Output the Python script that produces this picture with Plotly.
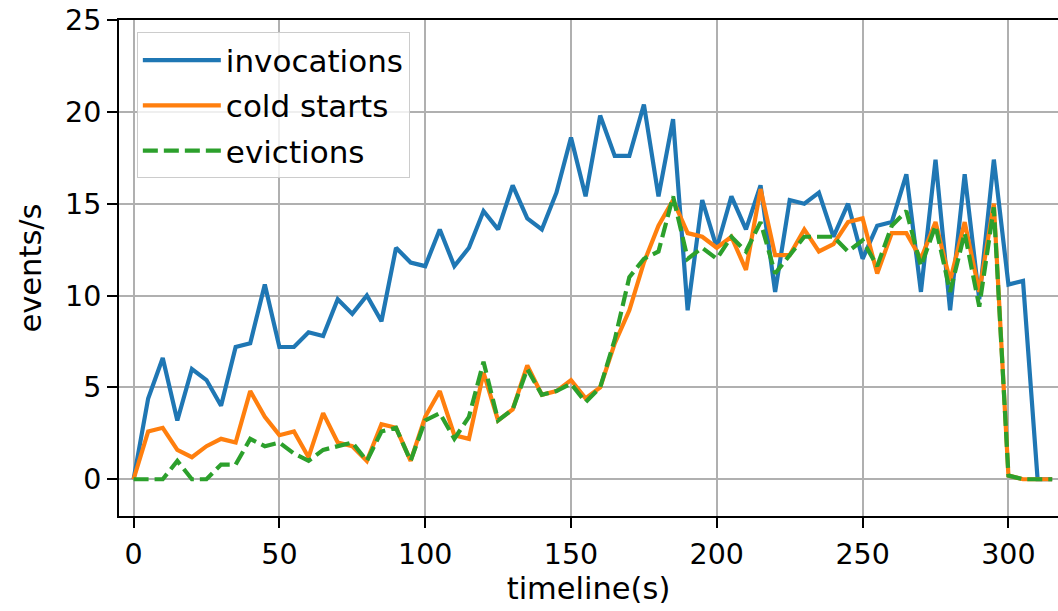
import plotly.graph_objects as go

timeline = list(range(0, 320, 5))

invocations = [0, 4.4, 6.6, 3.2, 6.0, 5.4, 4.0, 7.2, 7.4, 10.6,
               7.2, 7.2, 8.0, 7.8, 9.8, 9.0, 10.0, 8.6, 12.6, 11.8,
               11.6, 13.6, 11.6, 12.6, 14.6, 13.6, 16.0, 14.2, 13.6, 15.6,
               18.6, 15.4, 19.8, 17.6, 17.6, 20.4, 15.4, 19.6, 9.2, 15.2,
               12.6, 15.4, 13.6, 16.0, 10.2, 15.2, 15.0, 15.6, 13.2, 15.0,
               12.0, 13.8, 14.0, 16.6, 10.2, 17.4, 9.2, 16.6, 9.8, 17.4,
               10.6, 10.8, 0, 0]

cold_starts = [0, 2.6, 2.8, 1.6, 1.2, 1.8, 2.2, 2.0, 4.8, 3.4,
               2.4, 2.6, 1.2, 3.6, 2.0, 1.8, 1.0, 3.0, 2.8, 1.0,
               3.4, 4.8, 2.4, 2.2, 5.8, 3.2, 3.8, 6.2, 4.6, 4.8,
               5.4, 4.4, 5.0, 7.4, 9.2, 11.8, 13.8, 15.2, 13.4, 13.2,
               12.6, 13.2, 11.4, 15.8, 12.2, 12.2, 13.6, 12.4, 12.8, 14.0,
               14.2, 11.2, 13.4, 13.4, 12.0, 14.0, 10.8, 14.0, 10.2, 15.0,
               0.2, 0, 0, 0]

evictions = [0, 0, 0, 1.0, 0, 0, 0.8, 0.8, 2.2, 1.8,
             2.0, 1.4, 1.0, 1.6, 1.8, 2.0, 1.0, 2.6, 2.8, 1.0,
             3.2, 3.6, 2.2, 3.4, 6.4, 3.2, 3.8, 6.0, 4.6, 4.8,
             5.2, 4.2, 5.0, 7.6, 11.0, 12.0, 12.4, 15.4, 12.0, 12.6,
             12.0, 13.2, 12.4, 14.0, 11.2, 12.2, 13.2, 13.2, 13.2, 12.4,
             13.0, 11.6, 13.8, 14.6, 11.6, 13.8, 10.2, 13.4, 9.4, 14.8,
             0.2, 0, 0, 0]

x_ticks = [0, 50, 100, 150, 200, 250, 300]
y_ticks = [0, 5, 10, 15, 20, 25]

FONT = "DejaVu Sans"
LW = 4.2

fig = go.Figure()
fig.add_trace(go.Scatter(x=timeline, y=invocations, mode="lines", name="invocations",
                         legendgroup="a",
                         line=dict(color="#1f77b4", width=LW)))
fig.add_trace(go.Scatter(x=timeline, y=cold_starts, mode="lines", name="cold starts",
                         legendgroup="b",
                         line=dict(color="#ff7f0e", width=LW)))
fig.add_trace(go.Scatter(x=timeline, y=evictions, mode="lines", name="evictions",
                         legendgroup="c",
                         line=dict(color="#2ca02c", width=LW, dash="15px,6px")))

fig.update_layout(
    width=1058, height=611,
    margin=dict(l=119, r=0, t=20, b=95),
    paper_bgcolor="white", plot_bgcolor="white",
    font=dict(family=FONT, size=28.5, color="black"),
    showlegend=True,
    legend=dict(x=0.019, y=0.975, xanchor="left", yanchor="top",
                bgcolor="rgba(255,255,255,0.8)", bordercolor="#cccccc", borderwidth=1,
                font=dict(family=FONT, size=31, color="black"),
                tracegroupgap=2, itemwidth=78),
)
fig.update_xaxes(range=[-5, 317], tickvals=x_ticks, ticks="outside", ticklen=10, tickwidth=2,
                 tickcolor="black", showline=True, linecolor="black", linewidth=2, mirror=True,
                 showgrid=True, gridcolor="#b0b0b0", gridwidth=2, zeroline=False,
                 automargin=False, ticklabelstandoff=2, ticklabeloverflow="allow",
                 title=dict(text="timeline(s)", standoff=0, font=dict(family=FONT, size=30.5)),
                 tickfont=dict(family=FONT, size=28.5))
fig.update_yaxes(range=[-2, 25], tickvals=y_ticks, ticks="outside", ticklen=10, tickwidth=2,
                 tickcolor="black", showline=True, linecolor="black", linewidth=2, mirror=False,
                 showgrid=True, gridcolor="#b0b0b0", gridwidth=2, zeroline=False,
                 automargin=False, ticklabeloverflow="allow",
                 title=dict(text="events/s", standoff=14, font=dict(family=FONT, size=30.5)),
                 tickfont=dict(family=FONT, size=28.5))

fig.write_html("out.html", config={"displayModeBar": False},
               post_script="document.body.style.margin='0';")
